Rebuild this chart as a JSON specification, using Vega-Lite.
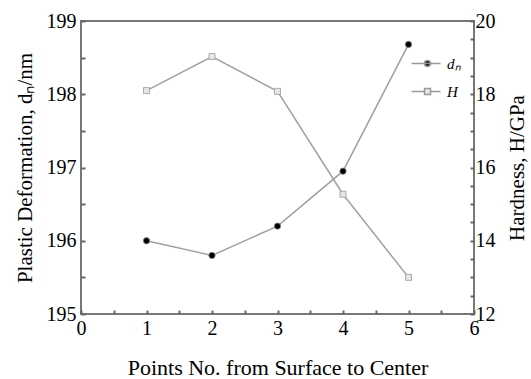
{
  "$schema": "https://vega.github.io/schema/vega-lite/v6.json",
  "width": 393,
  "height": 293,
  "autosize": "none",
  "padding": {"left": 81, "top": 21, "right": 57, "bottom": 65},
  "background": "white",
  "config": {
    "font": "Liberation Serif",
    "view": {"stroke": "#777", "strokeWidth": 2},
    "axis": {
      "grid": false,
      "domain": false,
      "offset": -4,
      "tickColor": "#666",
      "tickWidth": 2,
      "tickSize": 4,
      "format": "d",
      "labelFont": "Liberation Serif",
      "labelFontSize": 20,
      "labelColor": "black",
      "titleFont": "Liberation Serif",
      "titleFontSize": 21,
      "titleFontWeight": "normal",
      "titleColor": "black"
    },
    "legend": {
      "labelFont": "Liberation Serif",
      "labelFontSize": 15,
      "labelFontStyle": "italic",
      "labelColor": "black"
    }
  },
  "data": {
    "values": [
      {"x": 1, "series": "dn", "value": 196.0},
      {"x": 2, "series": "dn", "value": 195.8},
      {"x": 3, "series": "dn", "value": 196.2},
      {"x": 4, "series": "dn", "value": 196.95},
      {"x": 5, "series": "dn", "value": 198.68},
      {"x": 1, "series": "H", "value": 18.1},
      {"x": 2, "series": "H", "value": 19.03},
      {"x": 3, "series": "H", "value": 18.08},
      {"x": 4, "series": "H", "value": 15.27},
      {"x": 5, "series": "H", "value": 13.0}
    ]
  },
  "encoding": {
    "x": {
      "field": "x",
      "type": "quantitative",
      "scale": {"domain": [0, 6], "nice": false},
      "axis": {
        "title": "Points No. from Surface to Center",
        "titleFontSize": 22,
        "values": [0.5, 1, 1.5, 2, 2.5, 3, 3.5, 4, 4.5, 5, 5.5, 0, 6],
        "labelExpr": "datum.value % 1 === 0 ? datum.label : ''",
        "labelPadding": 4,
        "titlePadding": 19,
        "labelFlush": false
      }
    }
  },
  "layer": [
    {
      "transform": [{"filter": "datum.series === 'dn'"}],
      "encoding": {
        "y": {
          "field": "value",
          "type": "quantitative",
          "scale": {"domain": [195, 199], "nice": false, "zero": false},
          "axis": {
            "orient": "left",
            "title": "Plastic Deformation, dₙ/nm",
            "values": [195, 195.5, 196, 196.5, 197, 197.5, 198, 198.5, 199],
            "labelExpr": "datum.value % 1 === 0 ? datum.label : ''",
            "labelPadding": 5,
            "titlePadding": 11,
            "labelFlush": false
          }
        }
      },
      "layer": [
        {"mark": {"type": "line", "color": "#a0a0a0", "strokeWidth": 1.5}},
        {"mark": {"type": "point", "shape": "circle", "filled": true, "size": 40, "fill": "black", "stroke": "#888", "strokeWidth": 0.8, "opacity": 1}},
        {
          "mark": {"type": "point", "filled": true, "opacity": 0, "size": 100, "strokeWidth": 1.5},
          "encoding": {
            "shape": {
              "field": "series",
              "type": "nominal",
              "scale": {"domain": ["dn", "H"], "range": [
                "M-3.2,0H2.6M-0.6,0A0.6,0.6,0,1,1,0.6,0A0.6,0.6,0,1,1,-0.6,0Z",
                "M-3.2,0H-0.6M0.6,0H2.6M-0.6,-0.6H0.6V0.6H-0.6Z"
              ]},
              "legend": {
                "title": null,
                "orient": "none",
                "legendX": 339,
                "legendY": 35,
                "padding": 0,
                "symbolSize": 100,
                "symbolOpacity": 1,
                "symbolStrokeColor": "#999",
                "symbolStrokeWidth": 1.5,
                "labelOffset": 12,
                "rowPadding": 12,
                "labelExpr": "datum.value === 'dn' ? 'dₙ' : 'H'"
              }
            },
            "fill": {
              "field": "series",
              "type": "nominal",
              "scale": {"domain": ["dn", "H"], "range": ["black", "#e6e6e6"]}
            },
            "stroke": {
              "field": "series",
              "type": "nominal",
              "scale": {"domain": ["dn", "H"], "range": ["#999999", "#999999"]}
            }
          }
        }
      ]
    },
    {
      "transform": [{"filter": "datum.series === 'H'"}],
      "encoding": {
        "y": {
          "field": "value",
          "type": "quantitative",
          "scale": {"domain": [12, 20], "nice": false, "zero": false},
          "axis": {
            "orient": "right",
            "title": "Hardness, H/GPa",
            "titleAngle": -90,
            "titleBaseline": "top",
            "values": [12, 12.5, 13, 13.5, 14, 14.5, 15, 15.5, 16, 16.5, 17, 17.5, 18, 18.5, 19, 19.5, 20],
            "labelExpr": "datum.value % 2 === 0 ? datum.label : ''",
            "labelPadding": 1,
            "titlePadding": 11,
            "labelFlush": false
          }
        }
      },
      "layer": [
        {"mark": {"type": "line", "color": "#a0a0a0", "strokeWidth": 1.5}},
        {"mark": {"type": "point", "shape": "square", "filled": true, "size": 36, "fill": "#e6e6e6", "stroke": "#999", "strokeWidth": 0.8, "opacity": 1}}
      ]
    }
  ],
  "resolve": {"scale": {"y": "independent"}}
}
